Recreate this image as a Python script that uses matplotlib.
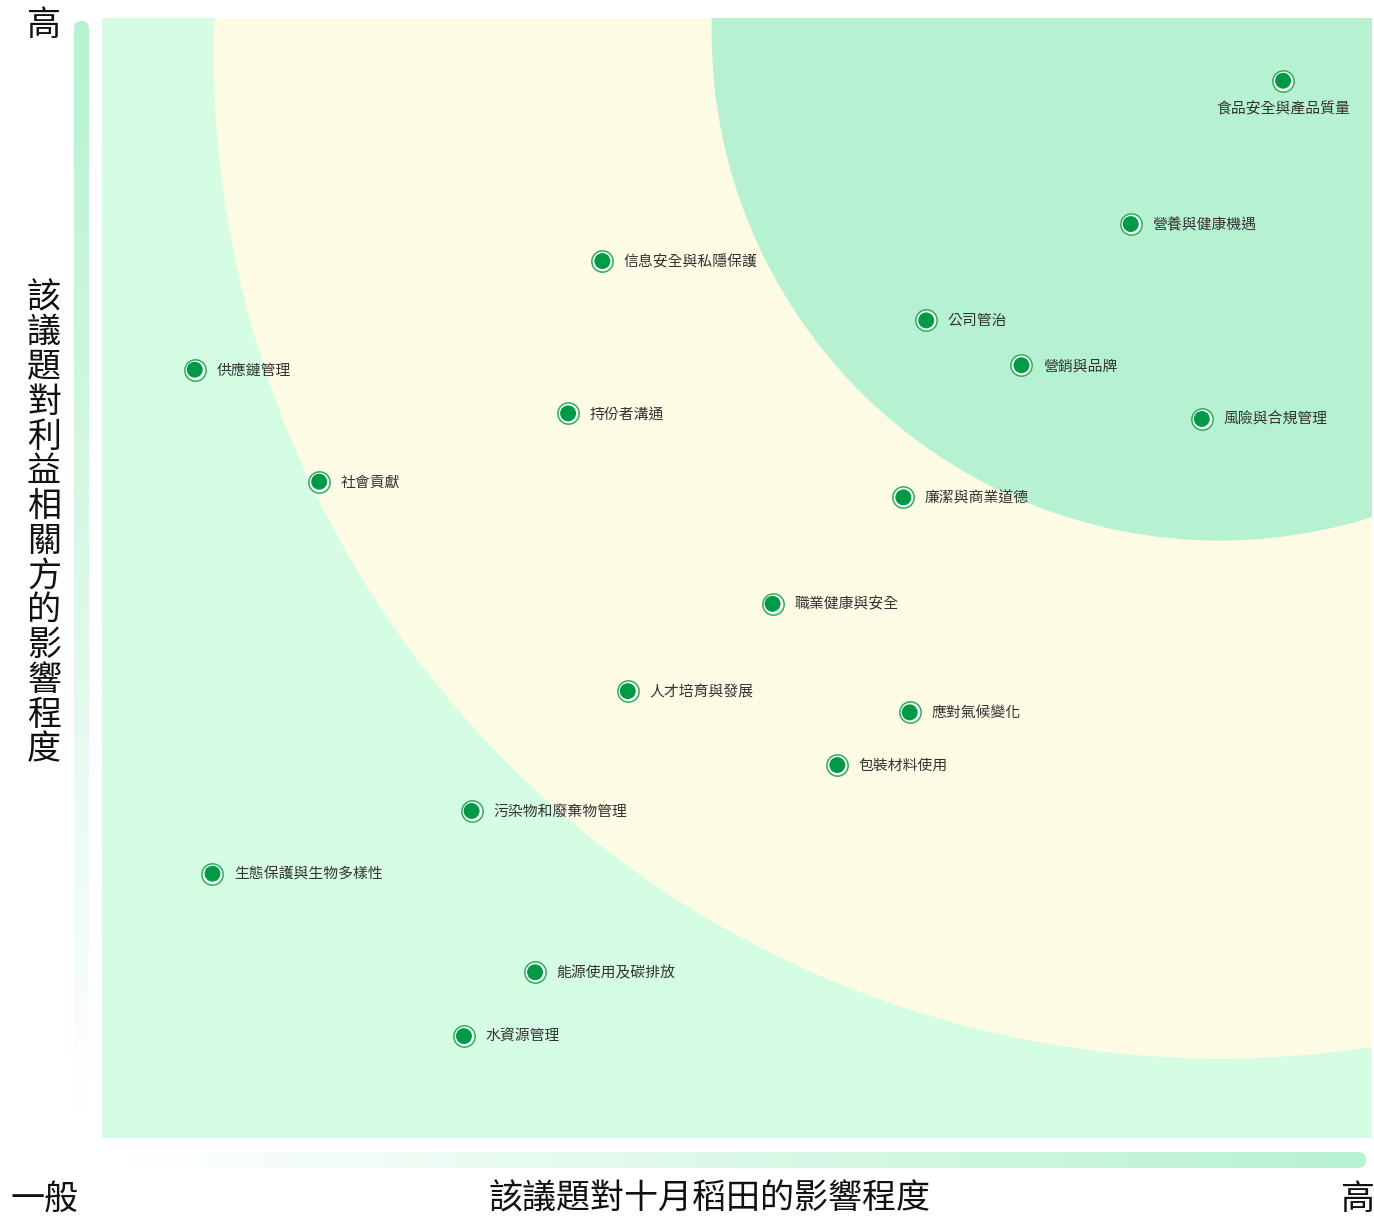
import matplotlib
matplotlib.use("Agg")
import numpy as np
import matplotlib.pyplot as plt
from matplotlib.patches import Ellipse, FancyBboxPatch

plt.rcParams['font.family'] = ['Noto Sans CJK TC', 'DejaVu Sans']

# issues: (impact on company, impact on stakeholders), 0-10 scale
topics = ["食品安全與產品質量", "營養與健康機遇", "信息安全與私隱保護", "公司管治",
          "營銷與品牌", "供應鏈管理", "風險與合規管理", "持份者溝通", "社會貢獻",
          "廉潔與商業道德", "職業健康與安全", "人才培育與發展", "應對氣候變化",
          "包裝材料使用", "污染物和廢棄物管理", "生態保護與生物多樣性",
          "能源使用及碳排放", "水資源管理"]
x_vals = [9.30, 8.10, 3.94, 6.49, 7.24, 0.73, 8.66, 3.67, 1.71,
          6.31, 5.28, 4.14, 6.36, 5.79, 2.91, 0.87, 3.41, 2.85]
y_vals = [9.44, 8.16, 7.83, 7.30, 6.90, 6.86, 6.42, 6.47, 5.86,
          5.72, 4.77, 3.99, 3.80, 3.33, 2.92, 2.36, 1.48, 0.91]

# priority zones: centre (x, y) and radius in x units
zone_centres = [(8.80, 9.69), (8.80, 9.87)]
zone_radii = [7.92, 4.0]
zone_colors = ["#fefbe4", "#b6f2d1"]

W, H = 1374, 1218
fig = plt.figure(figsize=(W / 100, H / 100), dpi=100)

# background decorations in pixel coords
deco = fig.add_axes([0, 0, 1, 1])
deco.set_xlim(0, W)
deco.set_ylim(H, 0)
deco.axis("off")


def gradient_bar(x0, y0, w, h, vertical):
    n = 256
    g = np.linspace(0, 1, n)
    c0 = np.array([182, 242, 209]) / 255
    c1 = np.array([1.0, 1.0, 1.0])
    if vertical:
        img = (c0[None, :] * (1 - g[:, None]) + c1[None, :] * g[:, None])[:, None, :]
    else:
        img = (c1[None, :] * (1 - g[:, None]) + c0[None, :] * g[:, None])[None, :, :]
    im = deco.imshow(img, extent=(x0, x0 + w, y0 + h, y0), aspect="auto", zorder=1)
    r = min(w, h) / 2
    clip = FancyBboxPatch((x0 + r, y0 + r), w - 2 * r, h - 2 * r,
                          boxstyle="round,pad=%f" % r, transform=deco.transData,
                          facecolor="none", edgecolor="none")
    deco.add_patch(clip)
    im.set_clip_path(clip)


gradient_bar(74, 21, 15, 1095, True)
gradient_bar(128, 1152, 1238, 16, False)
deco.set_xlim(0, W)
deco.set_ylim(H, 0)

tk = dict(fontsize=24.5, color="#111111", ha="center", va="center")
deco.text(44, 26, "高", **tk)
deco.text(45, 1199, "一般", **tk)
deco.text(1358, 1199, "高", **tk)
deco.text(710, 1199, "該議題對十月稻田的影響程度", **tk)
deco.text(44, 524, "\n".join("該議題對利益相關方的影響程度"), linespacing=0.99, **tk)

# main chart
ax = fig.add_axes([102 / W, (H - 1138) / H, 1270 / W, 1120 / H])
ax.set_xlim(0, 10)
ax.set_ylim(0, 10)
ax.set_facecolor("#d5fde3")
for s in ax.spines.values():
    s.set_visible(False)
ax.set_xticks([])
ax.set_yticks([])

# aspect: pixels per unit
sx, sy = 127.0, 112.0
for (cx, cy), r, col in zip(zone_centres, zone_radii, zone_colors):
    ax.add_patch(Ellipse((cx, cy), 2 * r, 2 * r * sx / sy, facecolor=col,
                         edgecolor="none", zorder=1))

ax.scatter(x_vals, y_vals, s=235, facecolor="white", edgecolor="#2aae5e",
           linewidth=1.1, zorder=3)
ax.scatter(x_vals, y_vals, s=132, facecolor="#009a46", edgecolor="none", zorder=4)

for name, x, y in zip(topics, x_vals, y_vals):
    if name == "食品安全與產品質量":
        ax.annotate(name, (x, y), xytext=(0, -20.5), textcoords="offset points",
                    ha="center", va="center", fontsize=10.7, color="#333333", zorder=5)
    else:
        ax.annotate(name, (x, y), xytext=(15.5, -0.6), textcoords="offset points",
                    ha="left", va="center", fontsize=10.7, color="#333333", zorder=5)

fig.savefig("out.png", dpi=100)
